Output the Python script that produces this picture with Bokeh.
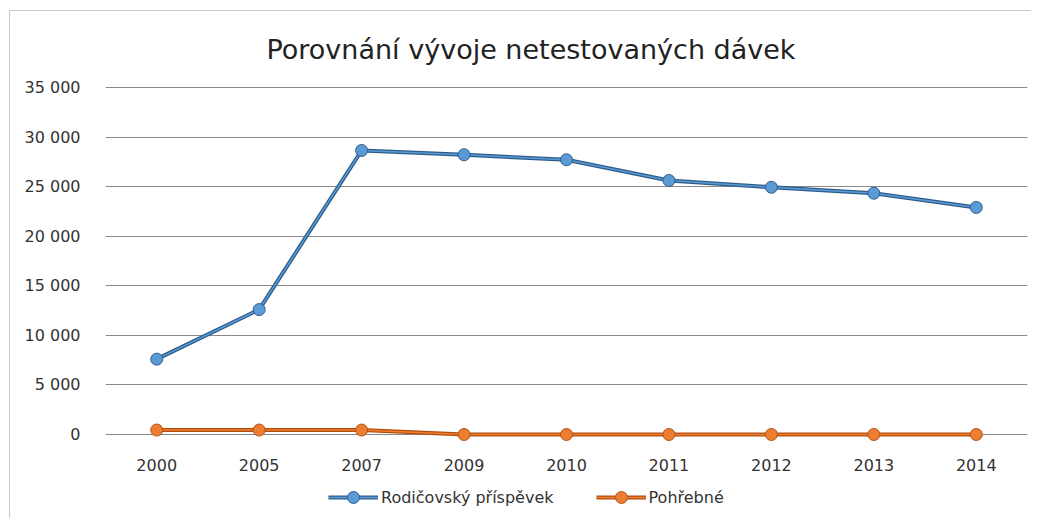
from bokeh.plotting import figure
from bokeh.models import FactorRange, Range1d, FixedTicker, Legend, LegendItem, Title
from bokeh.embed import file_html
from bokeh.resources import INLINE

years = ["2000", "2005", "2007", "2009", "2010", "2011", "2012", "2013", "2014"]
rodicovsky = [7600, 12600, 28650, 28220, 27710, 25620, 24940, 24340, 22900]
pohrebne = [450, 450, 450, 0, 0, 0, 0, 0, 0]
y_ticks = [0, 5000, 10000, 15000, 20000, 25000, 30000, 35000]
y_labels = ["0", "5 000", "10 000", "15 000", "20 000", "25 000", "30 000", "35 000"]

FONT = "DejaVu Sans"

p = figure(width=1022, height=508, output_backend="svg", toolbar_location=None,
           x_range=FactorRange(*years, range_padding=0), y_range=Range1d(-8573, 35303),
           min_border_left=95, min_border_right=5, min_border_top=73, min_border_bottom=0,
           margin=(10, 0, 0, 9),
           styles={"border-left": "1px solid #c8c8c8", "border-top": "1px solid #c8c8c8"})
p.outline_line_color = None
p.background_fill_color = "white"
p.border_fill_color = "white"

t = Title(text="Porovnání vývoje netestovaných dávek", align="left", offset=161,
          text_font=FONT, text_font_size="27px", text_font_style="normal",
          text_color="#222222", standoff=40)
p.add_layout(t, "above")

# y axis
p.yaxis.ticker = FixedTicker(ticks=y_ticks)
p.yaxis.major_label_overrides = {t_: l for t_, l in zip(y_ticks, y_labels)}
p.yaxis.axis_line_color = None
p.yaxis.major_tick_line_color = None
p.yaxis.minor_tick_line_color = None
p.yaxis.major_label_standoff = 19
p.yaxis.major_label_text_font = FONT
p.yaxis.major_label_text_font_size = "16px"
p.yaxis.major_label_text_color = "#333333"

# x axis (drawn inside the frame, just below the zero line)
p.xaxis.fixed_location = -700
p.xaxis.axis_line_color = None
p.xaxis.major_tick_line_color = None
p.xaxis.minor_tick_line_color = None
p.xaxis.major_label_standoff = 12
p.xaxis.major_label_text_font = FONT
p.xaxis.major_label_text_font_size = "16px"
p.xaxis.major_label_text_color = "#333333"

p.xgrid.grid_line_color = None
p.ygrid.ticker = FixedTicker(ticks=y_ticks)
p.ygrid.grid_line_color = "#888888"
p.ygrid.grid_line_width = 1

# series
b_out = p.line(years, rodicovsky, line_color="#2E5C8A", line_width=4)
b_in = p.line(years, rodicovsky, line_color="#5B9BD5", line_width=1.5)
b_pts = p.scatter(years, rodicovsky, size=12, fill_color="#5B9BD5", line_color="#2F5E8E", line_width=1)

o_out = p.line(years, pohrebne, line_color="#B34F0E", line_width=4)
o_in = p.line(years, pohrebne, line_color="#ED7D31", line_width=1.5)
o_pts = p.scatter(years, pohrebne, size=12, fill_color="#ED7D31", line_color="#B35410", line_width=1)

legend = Legend(items=[
    LegendItem(label="Rodičovský příspěvek", renderers=[b_out, b_in, b_pts]),
    LegendItem(label="Pohřebné", renderers=[o_out, o_in, o_pts]),
], location=(223, 7), orientation="horizontal", glyph_width=50, glyph_height=30,
   label_standoff=3, spacing=42, padding=0, margin=0, border_line_color=None,
   background_fill_alpha=0, label_text_font=FONT, label_text_font_size="16px",
   label_text_color="#333333")
p.add_layout(legend, "center")

open("out.html", "w").write(file_html(p, INLINE))
